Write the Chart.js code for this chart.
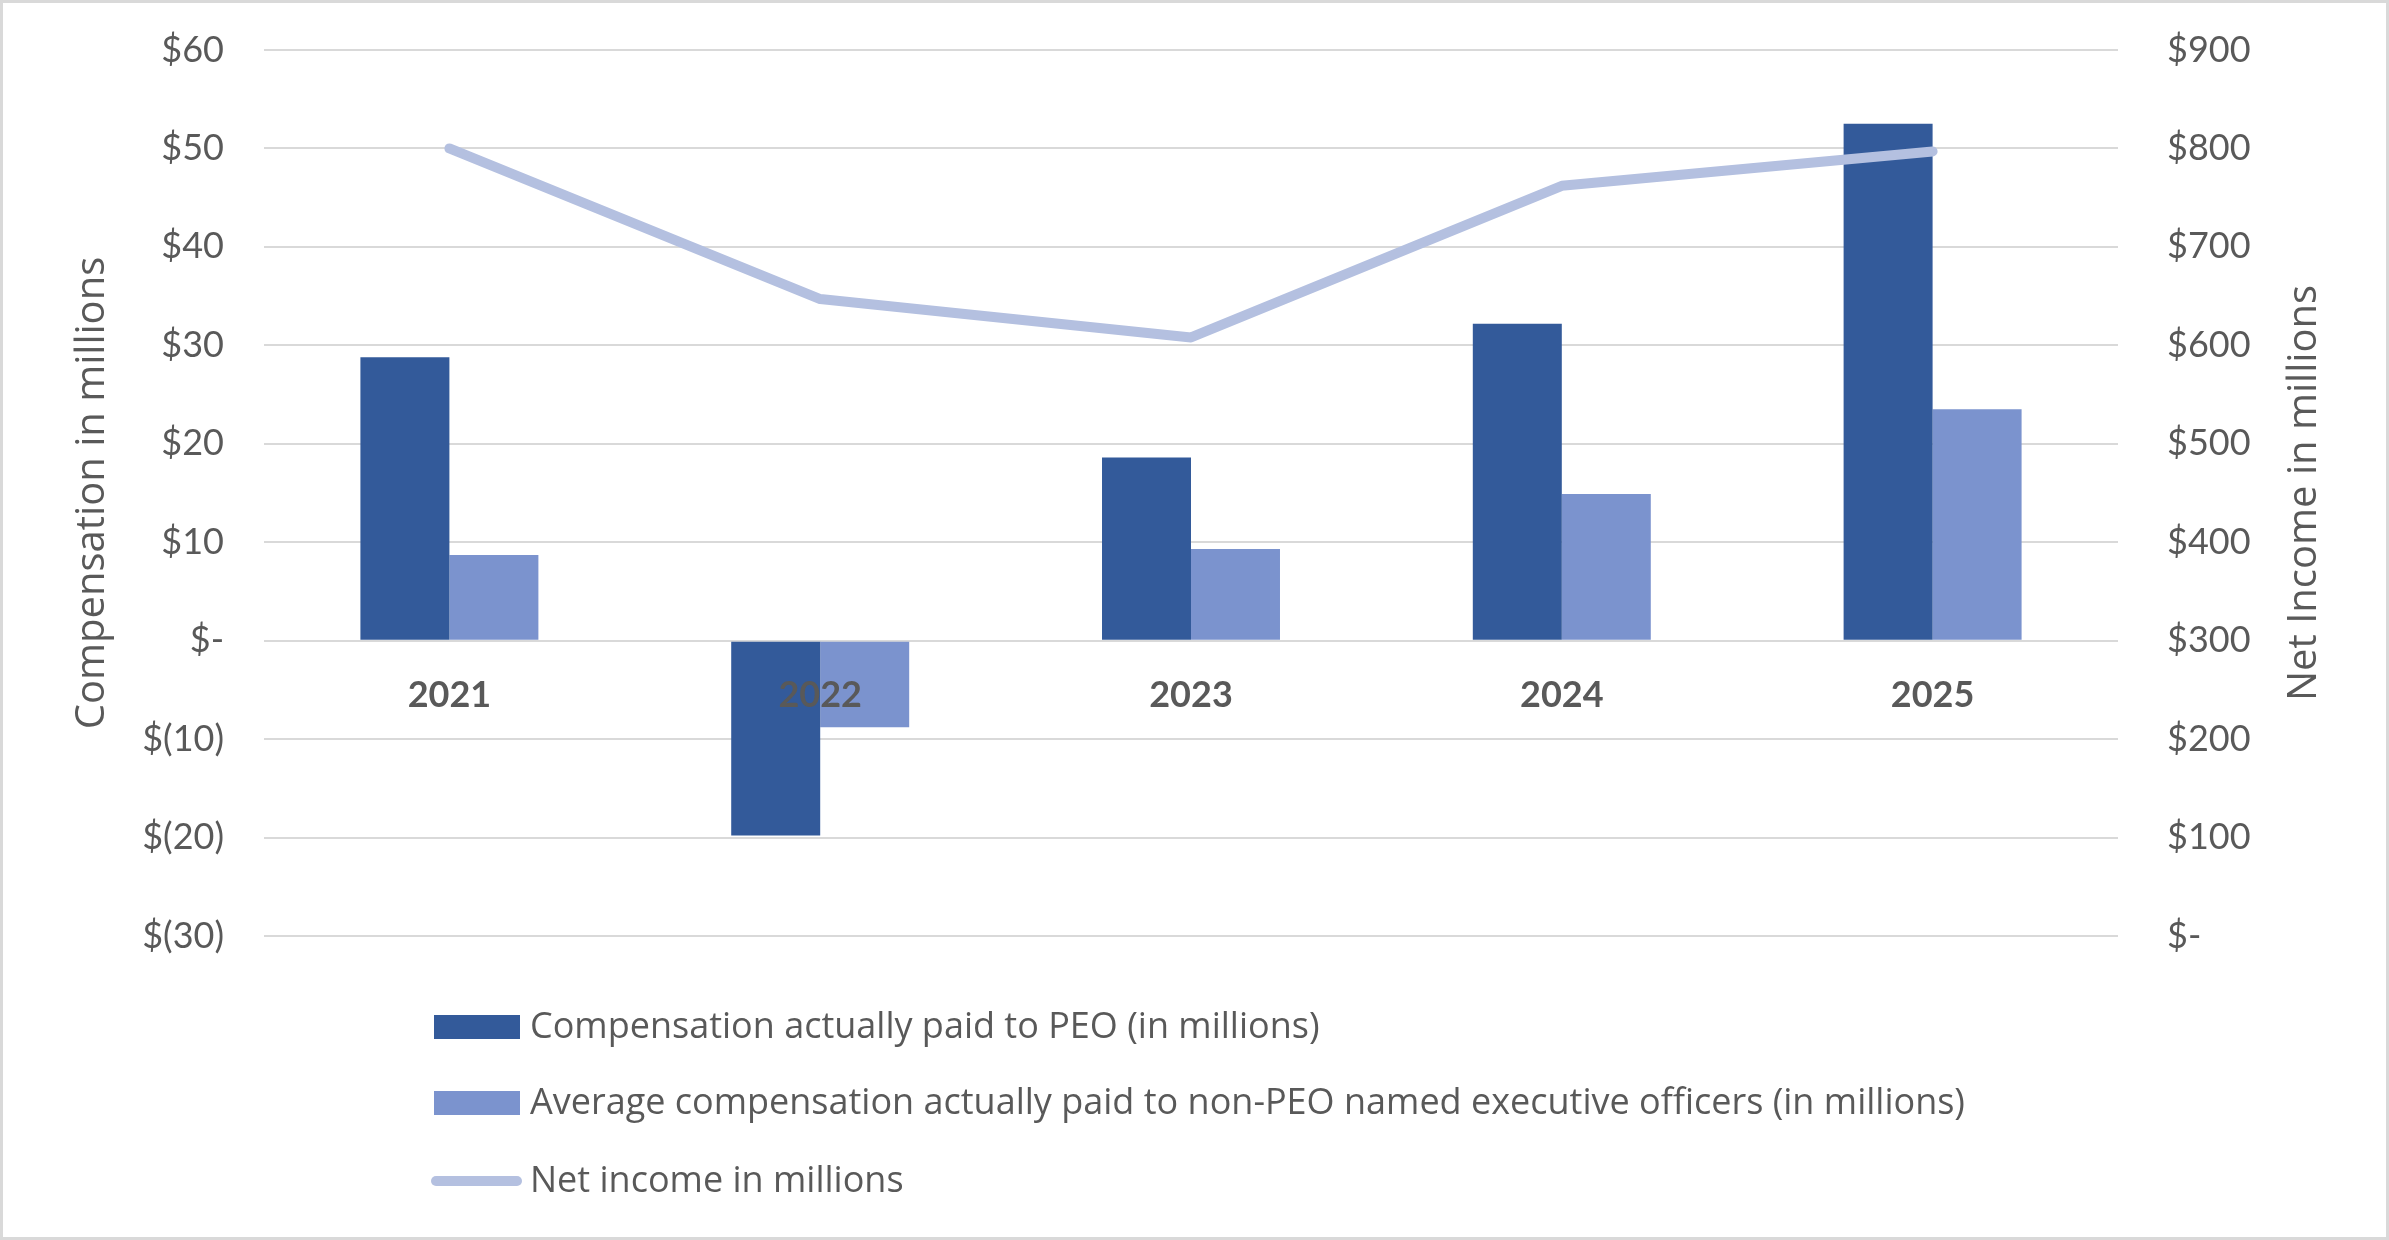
<!DOCTYPE html>
<html><head><meta charset="utf-8">
<script src="https://cdn.jsdelivr.net/npm/chart.js@4"></script>
<style>html,body{margin:0;padding:0;background:#fff;} canvas{display:block;}</style>
</head><body>
<canvas id="c" width="2389" height="1240"></canvas>
<script>
const categories = ['2021', '2022', '2023', '2024', '2025'];
const peoComp = [28.8, -19.8, 18.6, 32.2, 52.5];
const neoComp = [8.7, -8.8, 9.3, 14.9, 23.5];
const netIncome = [800, 647, 608, 762, 797];
const leftTickLabels = ['$(30)', '$(20)', '$(10)', '$-', '$10', '$20', '$30', '$40', '$50', '$60'];
const rightTickLabels = ['$-', '$100', '$200', '$300', '$400', '$500', '$600', '$700', '$800', '$900'];
const seriesNames = [
  'Compensation actually paid to PEO (in millions)',
  'Average compensation actually paid to non-PEO named executive officers (in millions)',
  'Net income in millions'
];
const leftTitle = 'Compensation in millions';
const rightTitle = 'Net Income in millions';

const TEXT = '#595959';
const GRID = '#D9D9D9';

const legendPlugin = {
  id: 'stackedLegend',
  afterDraw(chart) {
    const ctx = chart.ctx;
    const rows = [1027, 1103, 1181];
    chart.data.datasets.forEach((ds, i) => {
      const y = rows[i];
      ctx.save();
      if (ds.type === 'line') {
        ctx.strokeStyle = ds.borderColor; ctx.lineWidth = 10; ctx.lineCap = 'round';
        ctx.beginPath(); ctx.moveTo(436, y); ctx.lineTo(517, y); ctx.stroke();
      } else {
        ctx.fillStyle = ds.backgroundColor; ctx.fillRect(434, y - 12, 86, 24);
      }
      ctx.fillStyle = TEXT; ctx.font = '36px "Open Sans"'; ctx.textBaseline = 'middle';
      ctx.fillText(ds.label, 530, y + 1);
      ctx.restore();
    });
    // right axis title, reading bottom to top like the reference
    const area = chart.chartArea;
    ctx.save();
    ctx.translate(2305, (area.top + area.bottom) / 2);
    ctx.rotate(-Math.PI / 2);
    ctx.fillStyle = TEXT; ctx.font = '40px "Open Sans"';
    ctx.textAlign = 'center'; ctx.textBaseline = 'middle';
    ctx.fillText(rightTitle, 0, 0);
    ctx.restore();
    ctx.save();
    ctx.strokeStyle = GRID; ctx.lineWidth = 3;
    ctx.strokeRect(1.5, 1.5, chart.width - 3, chart.height - 3);
    ctx.restore();
  }
};

new Chart(document.getElementById('c'), {
  type: 'bar',
  data: {
    labels: categories,
    datasets: [
      { label: seriesNames[0], data: peoComp, backgroundColor: '#335A9A', yAxisID: 'y', order: 1,
        barPercentage: 1, categoryPercentage: 0.48 },
      { label: seriesNames[1], data: neoComp, backgroundColor: '#7B93CE', yAxisID: 'y', order: 1,
        barPercentage: 1, categoryPercentage: 0.48 },
      { type: 'line', label: seriesNames[2], data: netIncome, borderColor: '#B4C0E0', backgroundColor: '#B4C0E0',
        borderWidth: 10, pointRadius: 0, borderCapStyle: 'round', borderJoinStyle: 'round', tension: 0,
        yAxisID: 'y1', order: 0 }
    ]
  },
  plugins: [legendPlugin],
  options: {
    responsive: false,
    animation: false,
    devicePixelRatio: 1,
    layout: { autoPadding: false, padding: { top: 50, bottom: 304, left: 0, right: 0 } },
    plugins: { legend: { display: false }, tooltip: { enabled: false } },
    scales: {
      x: {
        position: { y: 0 },
        grid: { display: false },
        border: { display: false },
        ticks: { z: 1, color: TEXT, font: { family: 'Lato', size: 36, weight: 'bold' }, padding: 25 }
      },
      y: {
        position: 'left',
        min: -30, max: 60,
        afterFit(s) { s.width = 264; s.paddingTop = 0; s.paddingBottom = 0; },
        grid: { color: GRID, lineWidth: 2, drawTicks: false },
        border: { display: false },
        ticks: { stepSize: 10, color: TEXT, font: { family: 'Lato', size: 36 }, padding: 40,
          callback: (v, i) => leftTickLabels[i] },
        title: { display: true, text: leftTitle, color: TEXT, font: { family: 'Open Sans', size: 40 },
          padding: { top: 69, bottom: 0 } }
      },
      y1: {
        position: 'right',
        min: 0, max: 900,
        afterFit(s) { s.width = 271; s.paddingTop = 0; s.paddingBottom = 0; },
        grid: { display: false, drawTicks: false },
        border: { display: false },
        ticks: { stepSize: 100, color: TEXT, font: { family: 'Lato', size: 36 }, padding: 49,
          callback: (v, i) => rightTickLabels[i] }
      }
    }
  }
});
</script>
</body></html>
